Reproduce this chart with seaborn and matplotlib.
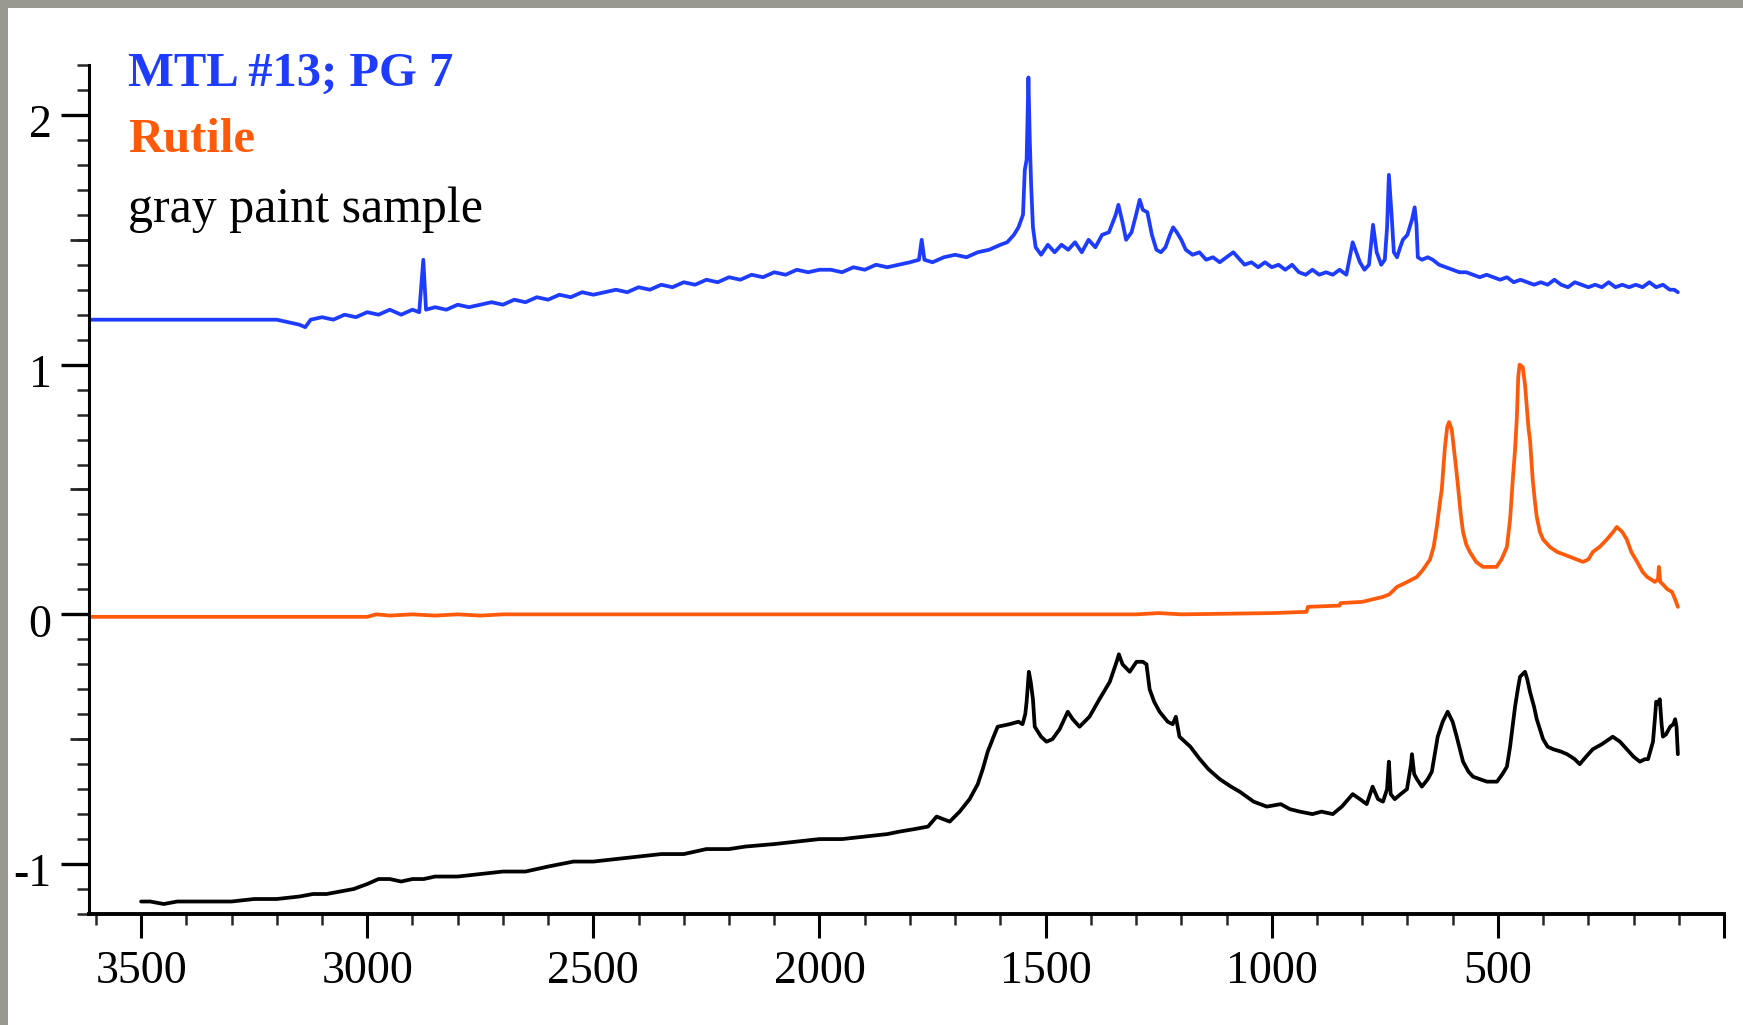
import matplotlib
matplotlib.use("Agg")
import matplotlib.pyplot as plt
import matplotlib.transforms as mtransforms
from matplotlib.patches import Rectangle
from matplotlib.ticker import MultipleLocator, FixedLocator, NullFormatter
import numpy as np
import pandas as pd
import seaborn as sns

# (wavenumber, value)
blue_pts = [
    (3615, 1.18), (3200, 1.18), (3175, 1.17), (3150, 1.16), (3137, 1.15), (3125, 1.18),
    (3100, 1.19), (3075, 1.18), (3050, 1.20), (3025, 1.19), (3000, 1.21), (2975, 1.20),
    (2950, 1.22), (2925, 1.20), (2900, 1.22), (2885, 1.21), (2876, 1.42), (2870, 1.22),
    (2850, 1.23), (2825, 1.22), (2800, 1.24), (2775, 1.23), (2750, 1.24), (2725, 1.25),
    (2700, 1.24), (2675, 1.26), (2650, 1.25), (2625, 1.27), (2600, 1.26), (2575, 1.28),
    (2550, 1.27), (2525, 1.29), (2500, 1.28), (2475, 1.29), (2450, 1.30), (2425, 1.29),
    (2400, 1.31), (2375, 1.30), (2350, 1.32), (2325, 1.31), (2300, 1.33), (2275, 1.32),
    (2250, 1.34), (2225, 1.33), (2200, 1.35), (2175, 1.34), (2150, 1.36), (2125, 1.35),
    (2100, 1.37), (2075, 1.36), (2050, 1.38), (2025, 1.37), (2000, 1.38), (1975, 1.38),
    (1950, 1.37), (1925, 1.39), (1900, 1.38), (1875, 1.40), (1850, 1.39), (1825, 1.40),
    (1800, 1.41), (1780, 1.42), (1774, 1.50), (1768, 1.42), (1750, 1.41), (1725, 1.43),
    (1700, 1.44), (1675, 1.43), (1650, 1.45), (1625, 1.46), (1600, 1.48), (1585, 1.49),
    (1570, 1.52), (1560, 1.55), (1550, 1.60), (1546, 1.78), (1542, 1.82), (1538, 2.15),
    (1535, 1.90), (1532, 1.72), (1528, 1.55), (1522, 1.47), (1510, 1.44), (1495, 1.48),
    (1480, 1.45), (1465, 1.48), (1450, 1.46), (1435, 1.49), (1420, 1.45), (1405, 1.50),
    (1390, 1.47), (1375, 1.52), (1360, 1.53), (1345, 1.60), (1339, 1.64), (1330, 1.57),
    (1322, 1.50), (1310, 1.53), (1300, 1.60), (1292, 1.66), (1285, 1.62), (1275, 1.61),
    (1265, 1.52), (1255, 1.46), (1245, 1.45), (1235, 1.47), (1225, 1.52), (1218, 1.55),
    (1210, 1.53), (1200, 1.50), (1190, 1.46), (1175, 1.44), (1160, 1.45), (1145, 1.42),
    (1130, 1.43), (1115, 1.41), (1100, 1.43), (1085, 1.45), (1075, 1.43), (1060, 1.40),
    (1045, 1.41), (1030, 1.39), (1015, 1.41), (1000, 1.39), (985, 1.40), (970, 1.38),
    (955, 1.40), (940, 1.37), (925, 1.36), (910, 1.38), (895, 1.36), (880, 1.37),
    (865, 1.36), (850, 1.38), (835, 1.36), (821, 1.49), (805, 1.41), (795, 1.38),
    (785, 1.40), (776, 1.56), (768, 1.45), (758, 1.40), (750, 1.42), (745, 1.55),
    (741, 1.76), (735, 1.60), (730, 1.45), (723, 1.43), (716, 1.47), (710, 1.50),
    (700, 1.52), (690, 1.58), (684, 1.63), (680, 1.56), (677, 1.43), (668, 1.42),
    (655, 1.43), (644, 1.42), (630, 1.40), (615, 1.39), (600, 1.38), (585, 1.37),
    (570, 1.37), (555, 1.36), (540, 1.35), (525, 1.36), (510, 1.35), (495, 1.34),
    (480, 1.35), (465, 1.33), (450, 1.34), (435, 1.33), (420, 1.32), (405, 1.33),
    (390, 1.32), (375, 1.34), (360, 1.32), (345, 1.31), (330, 1.33), (315, 1.32),
    (300, 1.31), (285, 1.32), (270, 1.31), (255, 1.33), (240, 1.31), (225, 1.32),
    (210, 1.31), (195, 1.32), (180, 1.31), (165, 1.33), (150, 1.31), (135, 1.32),
    (120, 1.30), (110, 1.30), (102, 1.29),
]

rutile_pts = [
    (3615, -0.01), (3000, -0.01), (2980, 0.0), (2950, -0.005), (2900, 0.0), (2850, -0.005),
    (2800, 0.0), (2750, -0.005), (2700, 0.0), (2000, 0.0), (1300, 0.0), (1250, 0.005),
    (1200, 0.0), (1000, 0.005), (923, 0.01), (920, 0.03), (850, 0.035), (848, 0.045),
    (800, 0.05), (754, 0.07), (740, 0.08), (723, 0.11), (700, 0.13), (679, 0.15),
    (665, 0.18), (650, 0.22), (642, 0.27), (635, 0.35), (628, 0.45), (624, 0.50),
    (620, 0.60), (617, 0.67), (612, 0.75), (608, 0.77), (602, 0.74), (597, 0.66),
    (592, 0.58), (588, 0.51), (582, 0.40), (577, 0.33), (570, 0.28), (562, 0.25),
    (548, 0.21), (533, 0.19), (515, 0.19), (503, 0.19), (492, 0.22), (480, 0.27),
    (473, 0.38), (467, 0.54), (462, 0.66), (458, 0.79), (455, 0.95), (452, 1.00),
    (445, 0.99), (440, 0.92), (436, 0.83), (432, 0.74), (429, 0.70), (423, 0.54),
    (418, 0.45), (414, 0.39), (407, 0.33), (400, 0.30), (385, 0.27), (369, 0.25),
    (340, 0.23), (312, 0.21), (300, 0.22), (290, 0.25), (275, 0.27), (259, 0.30),
    (245, 0.33), (237, 0.35), (225, 0.33), (215, 0.30), (205, 0.25), (192, 0.21),
    (180, 0.17), (170, 0.15), (153, 0.13), (146, 0.14), (144, 0.19), (141, 0.13),
    (135, 0.12), (125, 0.10), (115, 0.09), (108, 0.06), (102, 0.03),
]

gray_pts = [
    (3500, -1.15), (3480, -1.15), (3450, -1.16), (3420, -1.15), (3400, -1.15), (3350, -1.15),
    (3300, -1.15), (3250, -1.14), (3200, -1.14), (3150, -1.13), (3120, -1.12), (3090, -1.12),
    (3060, -1.11), (3030, -1.10), (3000, -1.08), (2975, -1.06), (2950, -1.06), (2925, -1.07),
    (2900, -1.06), (2875, -1.06), (2850, -1.05), (2800, -1.05), (2750, -1.04), (2700, -1.03),
    (2650, -1.03), (2600, -1.01), (2544, -0.99), (2500, -0.99), (2450, -0.98), (2400, -0.97),
    (2350, -0.96), (2300, -0.96), (2250, -0.94), (2200, -0.94), (2164, -0.93), (2100, -0.92),
    (2050, -0.91), (2000, -0.90), (1950, -0.90), (1900, -0.89), (1850, -0.88), (1823, -0.87),
    (1790, -0.86), (1760, -0.85), (1741, -0.81), (1712, -0.83), (1690, -0.79), (1668, -0.74),
    (1650, -0.68), (1639, -0.62), (1628, -0.55), (1615, -0.49), (1606, -0.45), (1580, -0.44),
    (1560, -0.43), (1551, -0.44), (1545, -0.40), (1542, -0.35), (1537, -0.23), (1533, -0.27),
    (1528, -0.34), (1524, -0.45), (1510, -0.49), (1498, -0.51), (1485, -0.50), (1469, -0.46),
    (1451, -0.39), (1440, -0.42), (1425, -0.45), (1403, -0.41), (1381, -0.34), (1358, -0.27),
    (1343, -0.19), (1338, -0.16), (1330, -0.20), (1314, -0.23), (1299, -0.19), (1285, -0.19),
    (1277, -0.20), (1270, -0.30), (1260, -0.35), (1248, -0.39), (1230, -0.43), (1219, -0.44),
    (1212, -0.41), (1204, -0.49), (1180, -0.53), (1159, -0.58), (1140, -0.62), (1115, -0.66),
    (1090, -0.69), (1071, -0.71), (1040, -0.75), (1011, -0.77), (980, -0.76), (960, -0.78),
    (938, -0.79), (910, -0.80), (890, -0.79), (865, -0.80), (845, -0.77), (821, -0.72),
    (805, -0.74), (790, -0.76), (777, -0.69), (765, -0.74), (754, -0.75), (745, -0.70),
    (741, -0.59), (737, -0.72), (728, -0.74), (715, -0.72), (701, -0.70), (692, -0.60),
    (690, -0.56), (685, -0.64), (679, -0.66), (668, -0.69), (655, -0.66), (646, -0.63),
    (633, -0.49), (622, -0.43), (611, -0.39), (600, -0.43), (591, -0.49), (577, -0.59),
    (565, -0.63), (555, -0.65), (540, -0.66), (524, -0.67), (502, -0.67), (490, -0.64),
    (480, -0.61), (473, -0.53), (462, -0.37), (455, -0.29), (451, -0.25), (440, -0.23),
    (435, -0.26), (429, -0.31), (420, -0.37), (414, -0.42), (400, -0.50), (390, -0.53),
    (378, -0.54), (360, -0.55), (347, -0.56), (330, -0.58), (319, -0.60), (305, -0.57),
    (290, -0.54), (270, -0.52), (246, -0.49), (230, -0.51), (215, -0.54), (200, -0.57),
    (186, -0.59), (175, -0.58), (168, -0.58), (157, -0.51), (152, -0.40), (150, -0.35),
    (146, -0.36), (142, -0.34), (138, -0.44), (135, -0.49), (128, -0.48), (119, -0.45),
    (112, -0.44), (108, -0.42), (105, -0.45), (102, -0.56),
]

labels = ["MTL #13; PG 7", "Rutile", "gray paint sample"]
colors = ["#1e3cff", "#ff5a0a", "#000000"]
x_ticks = [3500, 3000, 2500, 2000, 1500, 1000, 500, 0]
x_ticklabels = ["3500", "3000", "2500", "2000", "1500", "1000", "500", ""]
y_ticks = [-1, 0, 1, 2]
y_ticklabels = ["-1", "0", "1", "2"]

sns.set_theme(style="white")
plt.rcParams["font.family"] = ["Liberation Serif", "DejaVu Serif"]

fig = plt.figure(figsize=(17.43, 10.25), dpi=100)
ax = fig.add_axes([0.0511, 0.1083, 0.938, 0.8283])

for pts, c in zip([blue_pts, rutile_pts, gray_pts], colors):
    df = pd.DataFrame(pts, columns=["wn", "val"])
    sns.lineplot(data=df, x="wn", y="val", ax=ax, color=c, lw=2.7, estimator=None)

ax.set_xlim(3615, 0)
ax.set_ylim(-1.2, 2.2)
ax.set_xlabel("")
ax.set_ylabel("")

for s in ["top", "right"]:
    ax.spines[s].set_visible(False)
ax.spines["left"].set_linewidth(2.2)
ax.spines["bottom"].set_linewidth(2.8)
ax.spines["left"].set_color("black")
ax.spines["bottom"].set_color("black")

ax.xaxis.set_major_locator(FixedLocator(x_ticks))
ax.set_xticklabels(x_ticklabels)
ax.xaxis.set_minor_locator(MultipleLocator(100))
ax.yaxis.set_major_locator(FixedLocator(y_ticks))
ax.set_yticklabels(y_ticklabels)
ax.yaxis.set_minor_locator(MultipleLocator(0.1))

ax.tick_params(axis="x", which="major", direction="out", length=17, width=2.2, pad=9,
               labelsize=33, colors="black", bottom=True)
ax.tick_params(axis="x", which="minor", direction="out", length=8, width=1.8, bottom=True)
ax.tick_params(axis="y", which="major", direction="out", length=20, width=2.4, pad=7,
               labelsize=33, colors="black", left=True)
ax.tick_params(axis="y", which="minor", direction="out", length=9, width=1.8, left=True)

# medium ticks at the half units
sec = ax.secondary_yaxis("left")
sec.set_yticks([-0.5, 0.5, 1.5])
sec.yaxis.set_major_formatter(NullFormatter())
sec.tick_params(axis="y", direction="out", length=14, width=2.0)
sec.spines["left"].set_visible(False)

off = mtransforms.ScaledTranslation(0, -6 / 100, fig.dpi_scale_trans)
for lab in ax.get_yticklabels():
    lab.set_transform(lab.get_transform() + off)

ax.grid(False)
ax.set_facecolor("white")

# label block, top left
ax.text(0.024, 0.975, labels[0], transform=ax.transAxes, color=colors[0], fontsize=35,
        fontweight="bold", va="baseline", ha="left")
ax.text(0.024, 0.897, labels[1], transform=ax.transAxes, color=colors[1], fontsize=35,
        fontweight="bold", va="baseline", ha="left")
ax.text(0.024, 0.815, labels[2], transform=ax.transAxes, color=colors[2], fontsize=36,
        va="baseline", ha="left")

# grey frame at top and left
fig.patches.append(Rectangle((0, 1 - 8 / 1025), 1, 8 / 1025, transform=fig.transFigure,
                             facecolor="#99998f", edgecolor="none", zorder=-1))
fig.patches.append(Rectangle((0, 0), 8 / 1743, 1, transform=fig.transFigure,
                             facecolor="#99998f", edgecolor="none", zorder=-1))

fig.savefig("out.png", dpi=100, facecolor="white")
